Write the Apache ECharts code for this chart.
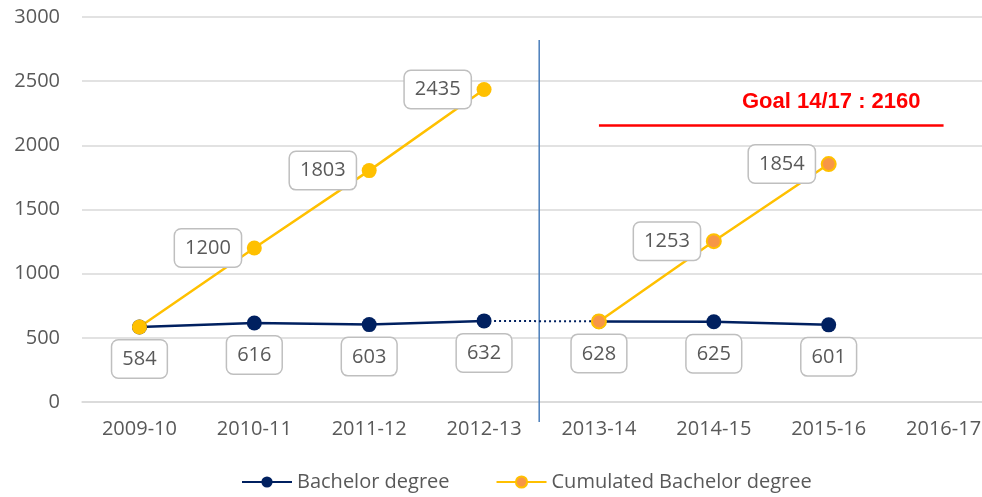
<!DOCTYPE html>
<html lang="en">
<head>
    <meta charset="UTF-8">
    <title>Bachelor degree</title>
    <script src="https://cdn.jsdelivr.net/npm/echarts@6/dist/echarts.min.js"></script>
    <style>
        html, body { margin: 0; padding: 0; background: #fff; }
        #grafica { width: 982px; height: 497px; }
    </style>
</head>
<body>
    <div id="grafica"></div>
    <script>
        // datos
        const years = ['2009-10', '2010-11', '2011-12', '2012-13', '2013-14', '2014-15', '2015-16', '2016-17'];
        const bachelorBefore = [584, 616, 603, 632, null, null, null, null];
        const bachelorAfter = [null, null, null, null, 628, 625, 601, null];
        const bachelorLink = [null, null, null, 632, 628, null, null, null];
        const cumulatedBefore = [584, 1200, 1803, 2435, null, null, null, null];
        const cumulatedAfter = [null, null, null, null, 628, 1253, 1854, null];
        const goalValue = 2160;
        const goalFrom = '2013-14';
        const goalTo = '2016-17';
        const dividerAt = 3.48;
        const dividerSpan = [2820, -155];
        const yTicks = { min: 0, max: 3000, step: 500 };

        const gris = '#595959';
        const navy = '#002060';
        const amarillo = '#FFC000';
        const naranja = '#F79646';
        const fuente = '"Open Sans", sans-serif';

        const cajita = {
            fontSize: 20,
            lineHeight: 24,
            fontFamily: fuente,
            color: gris,
            backgroundColor: '#fff',
            borderColor: '#BFBFBF',
            borderWidth: 1.5,
            borderRadius: 6,
            padding: [7, 10, 6, 10]
        };

        let myChart = echarts.init(document.getElementById('grafica'));

        let option = {
            animation: false,
            grid: { left: 82, width: 919, top: 17, bottom: 95, outerBoundsMode: 'none', containLabel: false },
            legend: {
                left: 236,
                bottom: 0,
                itemWidth: 50,
                itemHeight: 14,
                itemGap: 46,
                textStyle: { fontSize: 20, fontFamily: fuente, color: gris },
                data: [
                    { name: 'Bachelor degree' },
                    { name: 'Cumulated Bachelor degree', itemStyle: { color: naranja, borderColor: amarillo, borderWidth: 2 } }
                ]
            },
            xAxis: [
                {
                    type: 'category',
                    data: years,
                    boundaryGap: true,
                    axisLine: { lineStyle: { color: '#D9D9D9', width: 1.5 } },
                    axisTick: { show: false },
                    axisLabel: { fontSize: 20, fontFamily: fuente, color: gris, margin: 17 }
                },
                { type: 'value', min: -0.5, max: 7.5, show: false }
            ],
            yAxis: {
                type: 'value',
                min: yTicks.min,
                max: yTicks.max,
                interval: yTicks.step,
                axisLine: { show: false },
                axisTick: { show: false },
                axisLabel: { fontSize: 20, fontFamily: fuente, color: gris, margin: 22, formatter: v => String(v) },
                splitLine: { lineStyle: { color: '#D9D9D9', width: 1.5 } }
            },
            series: [
                {
                    name: 'link',
                    type: 'line',
                    data: bachelorLink,
                    symbol: 'none',
                    lineStyle: { color: navy, width: 2, type: [2, 3] },
                    silent: true
                },
                {
                    name: 'Bachelor degree',
                    type: 'line',
                    data: bachelorBefore,
                    symbol: 'circle',
                    symbolSize: 15,
                    itemStyle: { color: navy },
                    lineStyle: { color: navy, width: 2.5 },
                    label: Object.assign({ show: true, position: 'bottom', distance: 6 }, cajita)
                },
                {
                    name: 'Bachelor degree',
                    type: 'line',
                    data: bachelorAfter,
                    symbol: 'circle',
                    symbolSize: 15,
                    itemStyle: { color: navy },
                    lineStyle: { color: navy, width: 2.5 },
                    label: Object.assign({ show: true, position: 'bottom', distance: 6 }, cajita)
                },
                {
                    name: 'Cumulated Bachelor degree',
                    type: 'line',
                    data: cumulatedAfter.map((v, i) => ({ value: v, label: { show: i !== 4 } })),
                    symbol: 'circle',
                    symbolSize: 14,
                    itemStyle: { color: naranja, borderColor: amarillo, borderWidth: 2 },
                    lineStyle: { color: amarillo, width: 2.5 },
                    label: Object.assign({ show: true, position: 'left', distance: 6 }, cajita),
                    markLine: {
                        silent: true,
                        symbol: 'none',
                        lineStyle: { color: '#FF0000', width: 2.5, type: 'solid' },
                        label: {
                            show: true,
                            position: 'insideEndTop',
                            distance: [23, 12],
                            formatter: 'Goal 14/17 : ' + goalValue,
                            color: '#FF0000',
                            fontSize: 22,
                            fontWeight: 'bold',
                            fontFamily: '"Liberation Sans", Arial, sans-serif'
                        },
                        data: [[
                            { coord: [goalFrom, goalValue] },
                            { coord: [goalTo, goalValue] }
                        ]]
                    }
                },
                {
                    name: 'Cumulated Bachelor degree',
                    type: 'line',
                    data: cumulatedBefore.map((v, i) => ({ value: v, label: { show: i !== 0 } })),
                    symbol: 'circle',
                    symbolSize: 15,
                    itemStyle: { color: amarillo },
                    lineStyle: { color: amarillo, width: 2.5 },
                    label: Object.assign({ show: true, position: 'left', distance: 6 }, cajita)
                },
                {
                    name: 'divider',
                    type: 'line',
                    xAxisIndex: 1,
                    data: dividerSpan.map(v => [dividerAt, v]),
                    symbol: 'none',
                    clip: false,
                    silent: true,
                    z: 1,
                    lineStyle: { color: '#4A7EBB', width: 1.5 }
                }
            ]
        };

        myChart.setOption(option);
    </script>
</body>
</html>
